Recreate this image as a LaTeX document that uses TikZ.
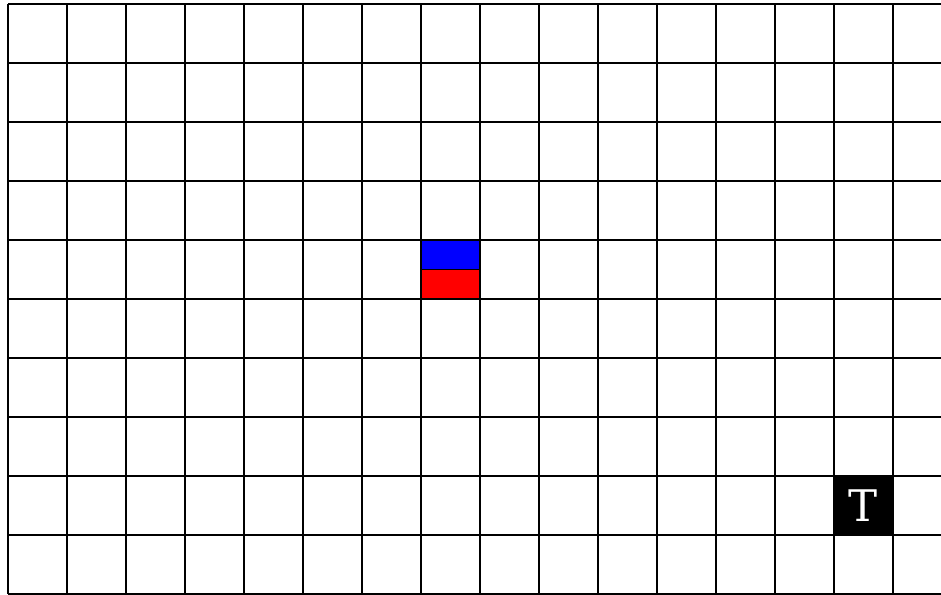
\documentclass[tikz,border=0pt]{standalone}
\usepackage{fontspec}
\newfontfamily\labelfont{DejaVu Serif}
\begin{document}
\begin{tikzpicture}[line width=0.9pt]
		
		\tikzset{
			cell/.style={draw=black, inner sep=0pt, minimum width=1cm, minimum height=0.5cm},
			goal/.style={fill=black, text=white, inner sep=0pt, minimum size=1cm, font=\labelfont\fontsize{21}{24}\selectfont}
		}
		
		\useasboundingbox (-0.1356,-0.005) rectangle (15.814,10.068);
		
		\draw (0,0) grid (16,10);
		
		\node[cell, fill=blue] (agentA) at (7.5,5.75) {};
		\node[cell, fill=red] (agentB) at (7.5,5.25) {};
		
		\node[goal] (target) at (14.5,1.5) {T};
		
	\end{tikzpicture}
\end{document}
